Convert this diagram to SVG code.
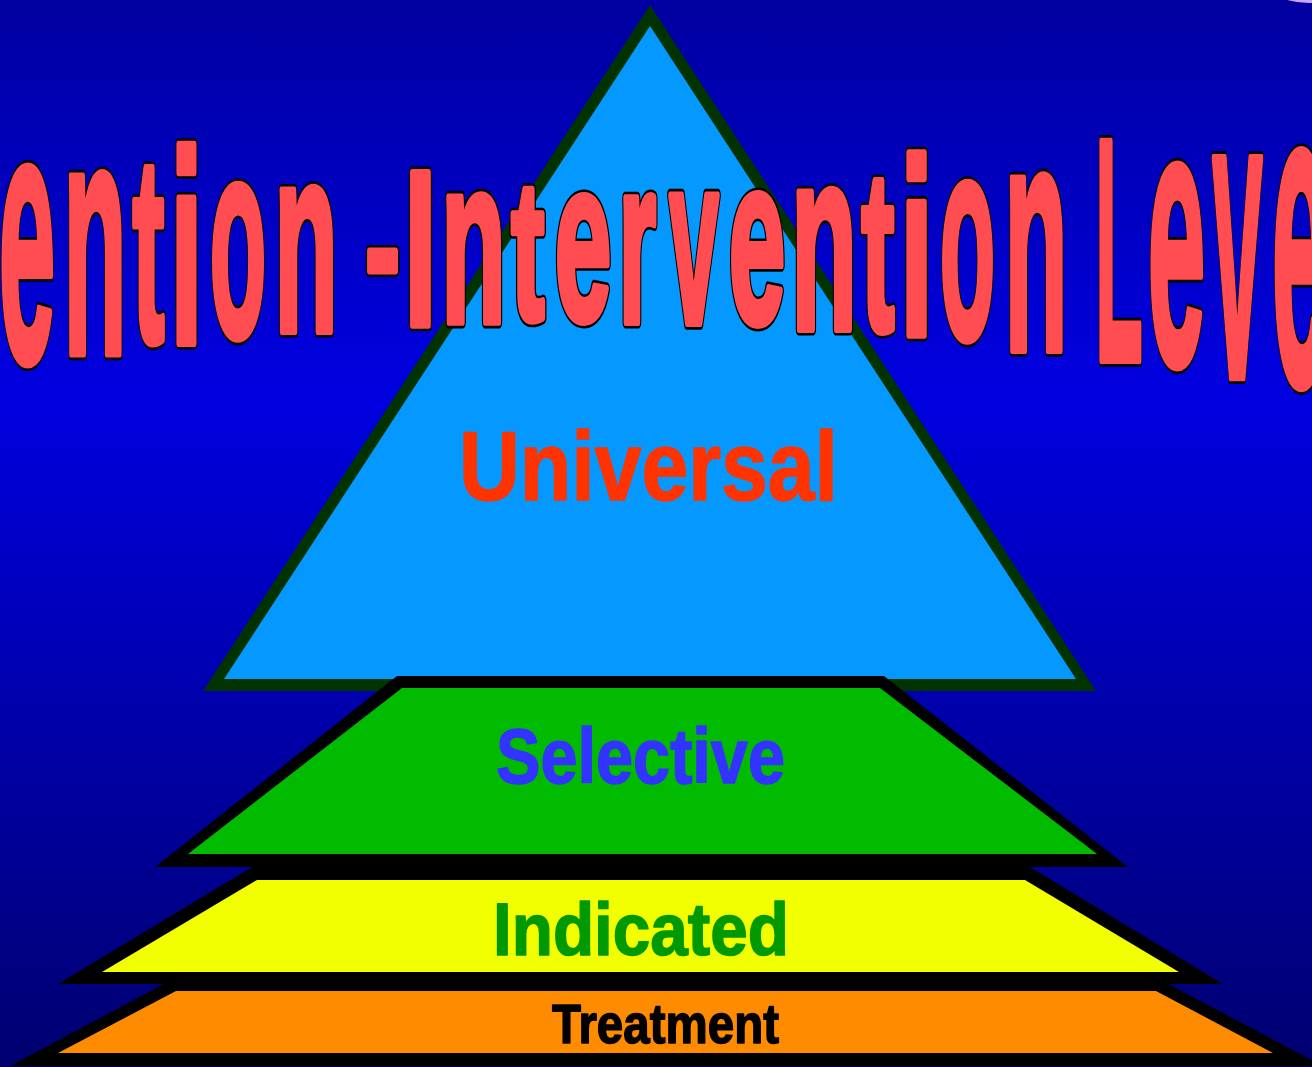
<svg xmlns="http://www.w3.org/2000/svg" width="1312" height="1067" viewBox="0 0 1312 1067">
  <defs>
    <linearGradient id="bg" x1="0" y1="0" x2="0" y2="1">
      <stop offset="0" stop-color="#0000a0"/>
      <stop offset="0.37" stop-color="#0000e0"/>
      <stop offset="1" stop-color="#000070"/>
    </linearGradient>
    <style>
      .t { font-family: "Liberation Sans", Arial, sans-serif; font-weight: bold; font-size: 100px; vector-effect: non-scaling-stroke; text-anchor: middle; stroke-linejoin: round; }
      .lbl { font-family: "Liberation Sans", Arial, sans-serif; font-weight: bold; stroke-width: 1.5; stroke-linejoin: round; }
    </style>
    <g id="letters">
      <text class="t" transform="translate(27,360.9) scale(1.02,3.613)">e</text>
      <text class="t" transform="translate(95,353.5) scale(1.042,3.349)">n</text>
      <text class="t" transform="translate(148.5,341.3) scale(0.967,2.656)">t</text>
      <text class="t" transform="translate(186.5,343) scale(1.214,2.737)">i</text>
      <text class="t" transform="translate(238,336.1) scale(0.926,2.81)">o</text>
      <text class="t" transform="translate(306,331) scale(1.042,2.66)">n</text>
      <text class="t" transform="translate(382.5,304.3) scale(1.04,1.667)">-</text>
      <text class="t" transform="translate(420.5,325) scale(1.164,2.207)">I</text>
      <text class="t" transform="translate(473.5,322) scale(1.0625,2.358)">n</text>
      <text class="t" transform="translate(528,319.2) scale(1.0,1.989)">t</text>
      <text class="t" transform="translate(583,319.8) scale(1.02,2.299)">e</text>
      <text class="t" transform="translate(637.3,322) scale(0.97,2.34)">r</text>
      <text class="t" transform="translate(694,323) scale(0.889,2.408)">v</text>
      <text class="t" transform="translate(757,322.7) scale(1.02,2.39)">e</text>
      <text class="t" transform="translate(824,329) scale(1.083,2.585)">n</text>
      <text class="t" transform="translate(878,329.8) scale(1.0,2.287)">t</text>
      <text class="t" transform="translate(916.5,335) scale(1.214,2.5)">i</text>
      <text class="t" transform="translate(967.5,338) scale(0.907,2.883)">o</text>
      <text class="t" transform="translate(1036,350) scale(1.042,3.245)">n</text>
      <text class="t" transform="translate(1119,360) scale(0.78,3.17)">L</text>
      <text class="t" transform="translate(1176.5,363.8) scale(1.041,3.704)">e</text>
      <text class="t" transform="translate(1237.5,377) scale(0.907,4.143)">v</text>
      <text class="t" transform="translate(1300.5,383.9) scale(1.041,4.343)">e</text>
    </g>
  </defs>

  <g id="background">
    <rect x="0" y="0" width="1312" height="1067" fill="url(#bg)"/>
    <path d="M1287,0 Q1300,3.5 1312,3 L1312,0 Z" fill="#c8a6ff"/>
  </g>

  <g id="universal">
    <polygon points="650,5 1096,691 203,691" fill="#003300"/>
    <polygon points="650,26 1076,679 224,679" fill="#0599ff"/>
  </g>

  <g id="selective">
    <polygon points="397,676 884,676 1128,867 155,867" fill="#000"/>
    <polygon points="402,688 880,688 1097,854 188,854" fill="#00bb00"/>
  </g>

  <g id="indicated">
    <polygon points="252,867 1030,867 1223,984 58,984" fill="#000"/>
    <polygon points="257,880 1025,880 1179,972 102,972" fill="#f2ff00"/>
  </g>

  <g id="treatment">
    <polygon points="173,979 1159,979 1323,1066 10,1066" fill="#000"/>
    <polygon points="176,991 1156,991 1273,1053 58,1053" fill="#ff8c00"/>
  </g>

  <g id="title">
    <use href="#letters" fill="#000" stroke="#000" stroke-width="10"/>
    <use href="#letters" fill="#ff4d52" stroke="#ff4d52" stroke-width="6"/>
  </g>

  <g id="labels">
    <text class="lbl" x="459" y="500" font-size="98" fill="#ff3300" stroke="#ff3300" textLength="379" lengthAdjust="spacingAndGlyphs">Universal</text>
    <text class="lbl" x="496" y="783" font-size="78" fill="#3333ff" stroke="#3333ff" textLength="289" lengthAdjust="spacingAndGlyphs">Selective</text>
    <text class="lbl" x="493" y="955" font-size="74" fill="#009900" stroke="#009900" textLength="296" lengthAdjust="spacingAndGlyphs">Indicated</text>
    <text class="lbl" x="552" y="1043" font-size="55" fill="#000000" stroke="#000000" textLength="227" lengthAdjust="spacingAndGlyphs">Treatment</text>
  </g>

  <g id="connectors"/>
</svg>
